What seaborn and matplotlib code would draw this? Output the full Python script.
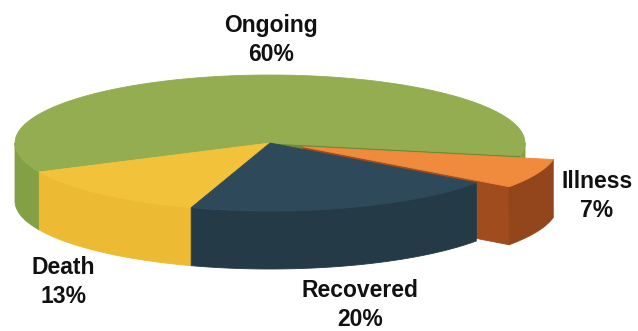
import numpy as np
import matplotlib
matplotlib.use("Agg")
import matplotlib.pyplot as plt
from matplotlib.patches import Polygon
import seaborn as sns

# Outcome shares (percent)
categories = ["Illness", "Ongoing", "Death", "Recovered"]
values = [7, 60, 13, 20]
explode = [0.14, 0.0, 0.0, 0.0]

top_colors = ["#F08A3C", "#93AD50", "#F2C23A", "#2E4A5A"]
side_colors = ["#93461B", "#84A045", "#EDBA34", "#243A47"]
wall_colors = ["#A04C1E", "#6F8A38", "#D9A82C", "#1E313D"]

label_pos = [(597, 196), (271, 40), (63, 282), (360, 305)]

sns.set_theme(style="white")
plt.rcParams["font.family"] = ["Liberation Sans", "DejaVu Sans"]

W, H, DPI = 638, 331, 100
fig = plt.figure(figsize=(W / DPI, H / DPI), dpi=DPI)
ax = fig.add_axes([0, 0, 1, 1])
ax.set_xlim(0, W)
ax.set_ylim(H, 0)
ax.axis("off")

# projected disc geometry (pixels)
cx, cy = 270.0, 143.0
rx, ry = 255.0, 68.0
depth = 58.0
start = 324.0

fracs = np.array(values, dtype=float) / np.sum(values)
bounds = start + np.concatenate([[0], np.cumsum(fracs) * 360.0])


def proj(t_deg, r=1.0, off=(0.0, 0.0), dz=0.0):
    t = np.radians(t_deg)
    return (cx + off[0] + rx * r * np.cos(t),
            cy + off[1] - ry * r * np.sin(t) + dz)


def arc(t0, t1, off, dz=0.0, n=80):
    ts = np.linspace(t0, t1, n)
    xs, ys = proj(ts, 1.0, off, dz)
    return np.column_stack([xs, ys])


walls = []
tops = []
for i in range(len(values)):
    t0, t1 = bounds[i], bounds[i + 1]
    mid = np.radians((t0 + t1) / 2)
    off = (explode[i] * rx * np.cos(mid), -explode[i] * ry * np.sin(mid))

    # top face
    vx, vy = proj(0, 0.0, off)
    tops.append((np.vstack([[vx, vy], arc(t0, t1, off)]), top_colors[i]))

    # outer walls on the viewer-facing half of the rim
    for k in range(-1, 3):
        lo, hi = 180 + 360 * k, 360 + 360 * k
        a0, a1 = max(t0, lo), min(t1, hi)
        if a1 > a0:
            upper = arc(a0, a1, off)
            lower = arc(a0, a1, off, depth)[::-1]
            poly = np.vstack([upper, lower])
            walls.append((poly[:, 1].mean(), poly, side_colors[i]))

    # radial walls exposed by an exploded neighbour (or by the slice itself)
    n = len(values)
    for edge, neighbour, sign in ((t0, (i - 1) % n, -1), (t1, (i + 1) % n, 1)):
        if explode[i] == 0 and explode[neighbour] == 0:
            continue
        facing = -np.sin(np.radians(edge + sign * 90))
        if facing <= 0:
            continue
        px, py = proj(edge, 1.0, off)
        poly = np.array([[vx, vy], [px, py], [px, py + depth], [vx, vy + depth]])
        walls.append((poly[:, 1].mean(), poly, wall_colors[i]))

for _, poly, col in sorted(walls, key=lambda w: w[0]):
    ax.add_patch(Polygon(poly, closed=True, facecolor=col, edgecolor=col,
                         linewidth=0.6, joinstyle="round"))
for poly, col in tops:
    ax.add_patch(Polygon(poly, closed=True, facecolor=col, edgecolor=col,
                         linewidth=0.6, joinstyle="round"))

for name, v, (lx, ly) in zip(categories, values, label_pos):
    ax.text(lx, ly, f"{name}\n{v}%", ha="center", va="center",
            fontsize=16.5, fontweight="bold", color="#111111", linespacing=1.3)

fig.savefig("out.png", dpi=DPI, facecolor="white")
